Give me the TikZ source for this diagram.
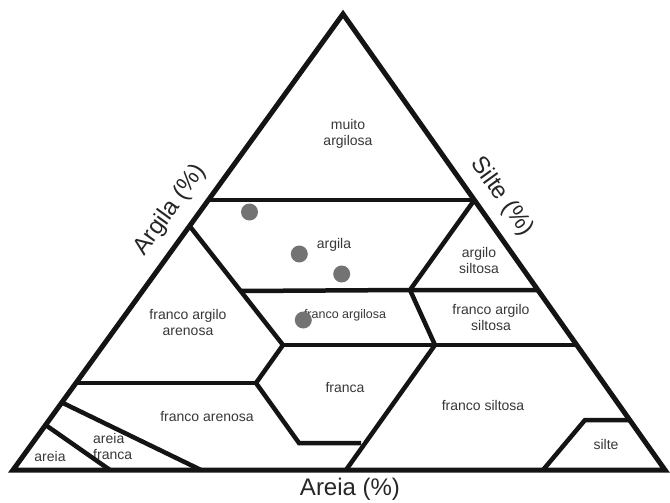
\documentclass[tikz,border=0pt]{standalone}
\usepackage{fontspec}
\setmainfont{Liberation Sans}
\begin{document}
\begin{tikzpicture}[x=1pt,y=-1pt,
  bnd/.style={line width=4.5pt, draw=black!92, line join=miter},
  lbl/.style={text=black!78, font=\fontsize{14}{16}\selectfont, align=center, inner sep=0pt},
  smalllbl/.style={text=black!78, font=\fontsize{12.5}{15}\selectfont, align=center, inner sep=0pt},
  axlbl/.style={text=black!85, font=\fontsize{24}{28}\selectfont, inner sep=0pt},
  dot/.style={circle, fill=black!55, draw=none, minimum size=17pt, inner sep=0pt}]
\useasboundingbox (0,0) rectangle (670,503);
\fill[white] (0,0) rectangle (670,503);
% vertices
\coordinate (A) at (13,470);
\coordinate (B) at (665,470);
\coordinate (C) at (343,14);
% labels
\node[lbl] (muito) at (348,134) {muito\\argilosa};
\node[lbl] (argila) at (334,245) {argila};
\node[lbl] (argsil) at (479,260) {argilo\\siltosa};
\node[lbl] (faa) at (188,322) {franco argilo\\arenosa};
\node[smalllbl] (fag) at (345,315) {franco argilosa};
\node[lbl] (fas) at (491,317) {franco argilo\\siltosa};
\node[lbl] (franca) at (345,388) {franca};
\node[lbl] (fare) at (207,417) {franco arenosa};
\node[lbl] (fsil) at (483,405) {franco siltosa};
\node[lbl] (silte) at (606,444) {silte};
\node[lbl] (areia) at (50,456) {areia};
\node[lbl, align=left, anchor=west] (afr) at (93,446) {areia\\franca};
% axis labels
\node[axlbl] (xa) at (350,489) {Areia (\%)};
\node[axlbl, rotate=54] (xb) at (170,210) {Argila (\%)};
\node[axlbl, rotate=-54] (xc) at (502,197) {Silte (\%)};
% boundary coordinates
\coordinate (m1) at (208.4,200);
\coordinate (m2) at (474.4,200);
\coordinate (a1) at (189.6,226);
\coordinate (a2) at (283,345);
\coordinate (b1) at (240.6,291);
\coordinate (b2) at (410,290);
\coordinate (b3) at (537.9,290);
\coordinate (c1) at (435,345);
\coordinate (c2) at (576.7,345);
\coordinate (c3) at (346,470);
\coordinate (d1) at (256,383);
\coordinate (d2) at (299,443);
\coordinate (d3) at (361,443);
\coordinate (e1) at (76,383);
\coordinate (f1) at (61.9,402.5);
\coordinate (f2) at (201,470);
\coordinate (g1) at (45.6,425);
\coordinate (g2) at (110,470);
\coordinate (s1) at (543,470);
\coordinate (s2) at (585,420);
\coordinate (s3) at (629.7,420);
% boundaries
\draw[bnd] (m1) -- (m2);
\draw[bnd] (a1) -- (a2);
\draw[bnd] (b1) -- (b2) -- (b3);
\draw[bnd] (m2) -- (b2) -- (c1) -- (c3);
\draw[bnd] (a2) -- (c1) -- (c2);
\draw[bnd] (a2) -- (d1) -- (d2) -- (d3);
\draw[bnd] (e1) -- (d1);
\draw[bnd] (f1) -- (f2);
\draw[bnd] (g1) -- (g2);
\draw[bnd] (s1) -- (s2) -- (s3);
\draw[bnd, line width=5pt] (A) -- (B) -- (C) -- cycle;
% data points
\node[dot] (p1) at (249.5,212) {};
\node[dot] (p2) at (299.3,254) {};
\node[dot] (p3) at (341.7,274) {};
\node[dot] (p4) at (303.3,320) {};
\end{tikzpicture}
\end{document}
